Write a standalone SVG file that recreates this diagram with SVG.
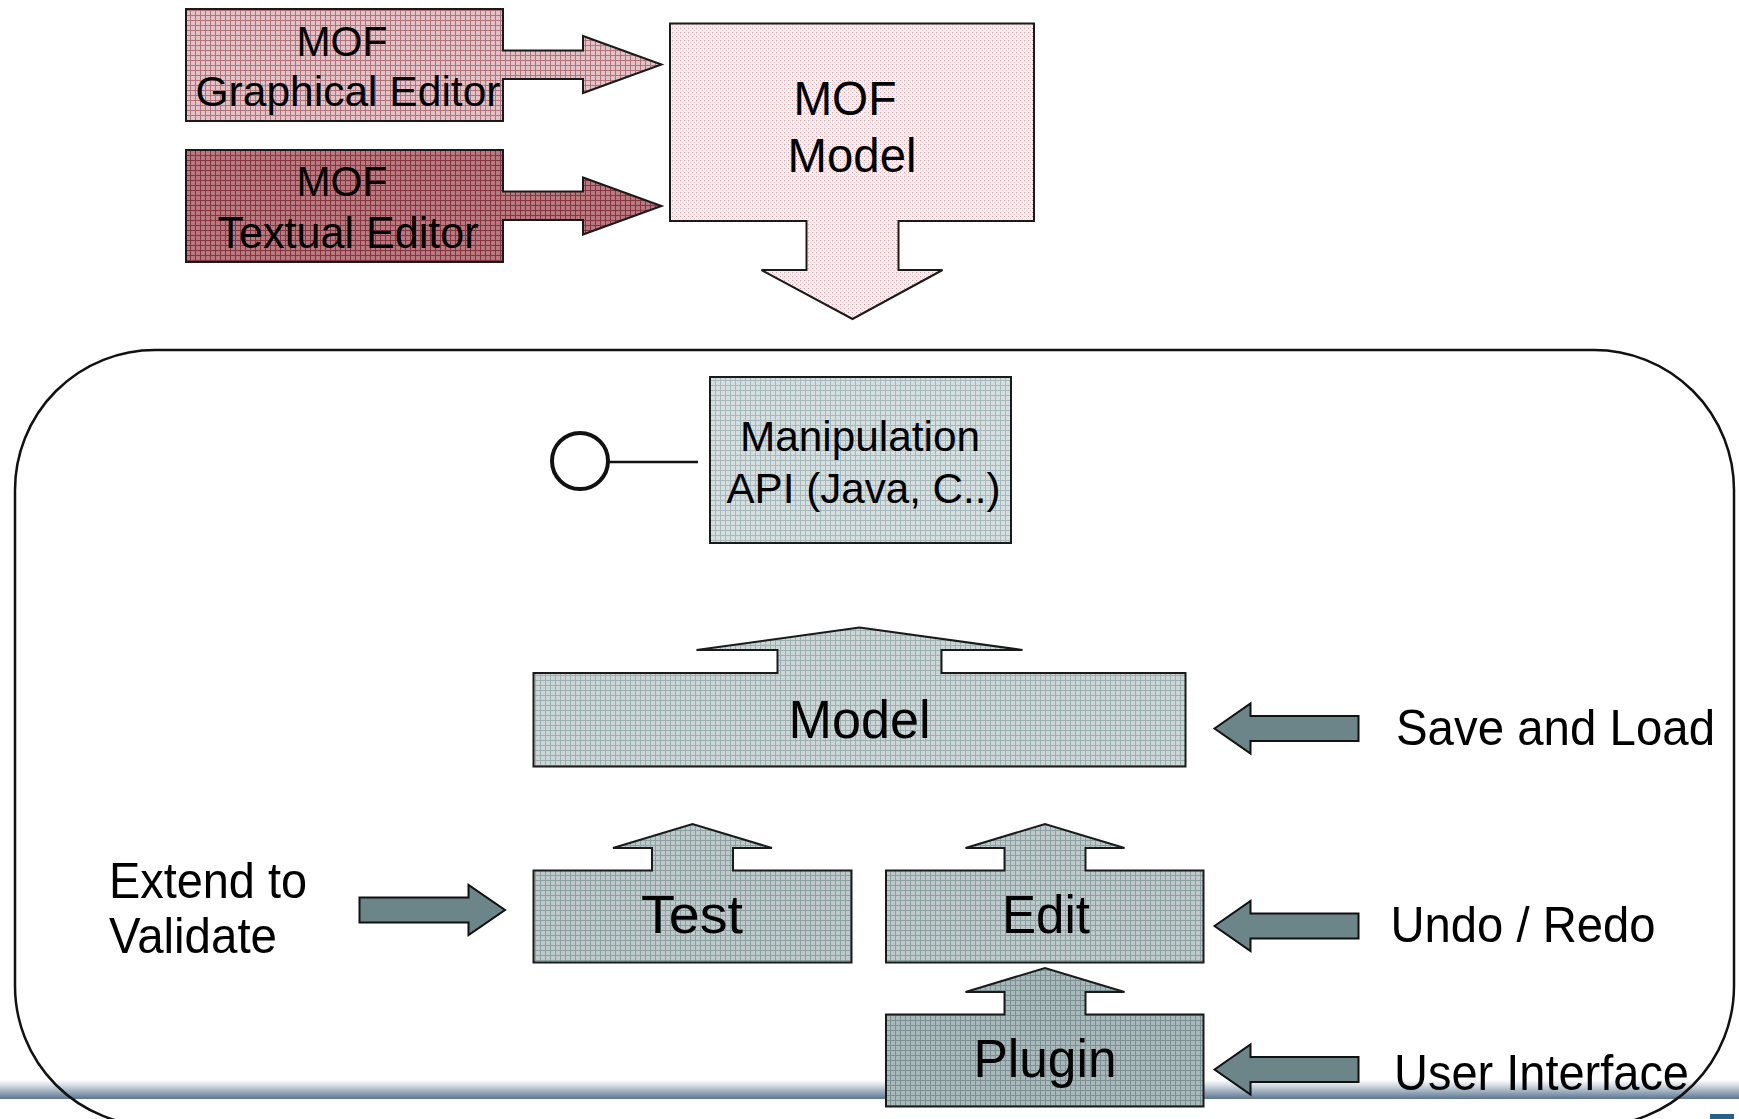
<svg xmlns="http://www.w3.org/2000/svg" width="1739" height="1119" viewBox="0 0 1739 1119">
<style>
.shape{stroke:#1a1a1a;stroke-width:2;stroke-linejoin:miter}
.blk{fill:#6b8588;stroke:#111;stroke-width:2}
.t{font-family:"Liberation Sans",Arial,Helvetica,sans-serif;fill:#000}
.c{text-anchor:middle}
</style>
<defs>
<pattern id="pGraph" width="5" height="5" patternUnits="userSpaceOnUse">
<rect width="5" height="5" fill="#e2c2c6"/>
<path d="M0,0.5H5M0.5,0V5" stroke="#b0737a" stroke-width="1"/>
</pattern>
<pattern id="pText" width="5" height="5" patternUnits="userSpaceOnUse">
<rect width="5" height="5" fill="#b87a80"/>
<path d="M0,0.5H5M0.5,0V5" stroke="#84343c" stroke-width="1"/>
</pattern>
<pattern id="pMof" width="4" height="4" patternUnits="userSpaceOnUse">
<rect width="4" height="4" fill="#f7eef0"/>
<rect x="0" y="0" width="1" height="1" fill="#c99aa0"/>
<rect x="2" y="2" width="1" height="1" fill="#dcbcc0"/>
</pattern>
<pattern id="pApi" width="5" height="5" patternUnits="userSpaceOnUse">
<rect width="5" height="5" fill="#d6dfe0"/>
<path d="M0,0.5H5M0.5,0V5" stroke="#a7b8ba" stroke-width="1"/>
</pattern>
<pattern id="pModel" width="5" height="5" patternUnits="userSpaceOnUse">
<rect width="5" height="5" fill="#ccd6d7"/>
<path d="M0,0.5H5M0.5,0V5" stroke="#9cafb1" stroke-width="1"/>
</pattern>
<pattern id="pTest" width="5" height="5" patternUnits="userSpaceOnUse">
<rect width="5" height="5" fill="#bdc9ca"/>
<path d="M0,0.5H5M0.5,0V5" stroke="#8ca0a2" stroke-width="1"/>
</pattern>
<pattern id="pPlug" width="5" height="5" patternUnits="userSpaceOnUse">
<rect width="5" height="5" fill="#a9b8ba"/>
<path d="M0,0.5H5M0.5,0V5" stroke="#7a9093" stroke-width="1"/>
</pattern>
<linearGradient id="band" x1="0" y1="0" x2="0" y2="1">
<stop offset="0" stop-color="#ffffff"/>
<stop offset="0.25" stop-color="#d9e0e7"/>
<stop offset="1" stop-color="#5b7691"/>
</linearGradient>
</defs>

<rect width="1739" height="1119" fill="#ffffff"/>
<g id="footer">
<rect x="0" y="1080" width="1739" height="19" fill="url(#band)"/>
<rect x="1710" y="1114" width="24" height="5" fill="#24618f"/>
</g>

<g id="platform">
<rect x="15" y="350" width="1719" height="776" rx="140" ry="140" fill="none" stroke="#111" stroke-width="2.5"/>
</g>

<g id="mof-graphical-editor">
<path class="shape" fill="url(#pGraph)" d="M186,9 H503 V50.5 H583 V36 L661.5,64.5 L583,93 V79 H503 V121 H186 Z"/>
<text class="t c" x="342" y="56" font-size="43" textLength="91" lengthAdjust="spacingAndGlyphs">MOF</text>
<text class="t c" x="348" y="106" font-size="43" textLength="305" lengthAdjust="spacingAndGlyphs">Graphical Editor</text>
</g>

<g id="mof-textual-editor">
<path class="shape" fill="url(#pText)" d="M186,150 H503 V191.5 H583 V177.5 L661.5,206 L583,234.5 V220 H503 V262 H186 Z"/>
<text class="t c" x="342" y="196" font-size="43" textLength="91" lengthAdjust="spacingAndGlyphs">MOF</text>
<text class="t c" x="348" y="248" font-size="44" textLength="261" lengthAdjust="spacingAndGlyphs">Textual Editor</text>
</g>

<g id="mof-model">
<path class="shape" fill="url(#pMof)" d="M670,23.5 H1034 V221 H898.5 V270 H942.5 L852.5,319 L761.5,270 H806.5 V221 H670 Z"/>
<text class="t c" x="845" y="115" font-size="48" textLength="103" lengthAdjust="spacingAndGlyphs">MOF</text>
<text class="t c" x="852" y="172" font-size="48" textLength="129" lengthAdjust="spacingAndGlyphs">Model</text>
</g>

<g id="manipulation-api">
<rect class="shape" x="710" y="377" width="301" height="166" fill="url(#pApi)"/>
<text class="t c" x="860" y="451" font-size="43" textLength="240" lengthAdjust="spacingAndGlyphs">Manipulation</text>
<text class="t c" x="863.5" y="503" font-size="43" textLength="274" lengthAdjust="spacingAndGlyphs">API (Java, C..)</text>
</g>

<g id="api-interface">
<circle cx="580" cy="461" r="28" fill="#ffffff" stroke="#111" stroke-width="4"/>
</g>

<g id="model">
<path class="shape" fill="url(#pModel)" d="M533.5,673 H777.5 V650 H696.5 L859.5,627.5 L1022.5,650 H941.5 V673 H1185.5 V766.5 H533.5 Z"/>
<text class="t c" x="859.5" y="738" font-size="54" textLength="142" lengthAdjust="spacingAndGlyphs">Model</text>
</g>

<g id="test">
<path class="shape" fill="url(#pTest)" d="M533.5,870.5 H652 V848 H613 L692.5,824 L772,848 H733 V870.5 H851.5 V962.5 H533.5 Z"/>
<text class="t c" x="692" y="933" font-size="54" textLength="102" lengthAdjust="spacingAndGlyphs">Test</text>
</g>

<g id="edit">
<path class="shape" fill="url(#pTest)" d="M886,870.5 H1004.5 V848 H965.5 L1045,824 L1124.5,848 H1085.5 V870.5 H1203.5 V962.5 H886 Z"/>
<text class="t c" x="1046" y="933" font-size="54" textLength="88" lengthAdjust="spacingAndGlyphs">Edit</text>
</g>

<g id="plugin">
<path class="shape" fill="url(#pPlug)" d="M886,1014.5 H1004.5 V992 H965.5 L1045,968 L1124.5,992 H1085.5 V1014.5 H1203.5 V1106.5 H886 Z"/>
<text class="t c" x="1045" y="1077" font-size="54" textLength="143" lengthAdjust="spacingAndGlyphs">Plugin</text>
</g>

<g id="connectors">
<line x1="609" y1="462" x2="698" y2="462" stroke="#111" stroke-width="2.5"/>
<path class="blk" d="M1214.5,728.5 L1250.5,703.5 V716 H1358.5 V741 H1250.5 V753.5 Z"/>
<path class="blk" d="M1214.5,926 L1250.5,901 V913.5 H1358.5 V938.5 H1250.5 V951 Z"/>
<path class="blk" d="M1214.5,1069.5 L1250.5,1044.5 V1057 H1358.5 V1082 H1250.5 V1094.5 Z"/>
<path class="blk" d="M359.5,897.5 H468.5 V885 L505,910 L468.5,935 V922.5 H359.5 Z"/>
</g>

<g id="label-save-load">
<text class="t" x="1396" y="745" font-size="50" textLength="319" lengthAdjust="spacingAndGlyphs">Save and Load</text>
</g>
<g id="label-undo-redo">
<text class="t" x="1390.5" y="942" font-size="50" textLength="265" lengthAdjust="spacingAndGlyphs">Undo / Redo</text>
</g>
<g id="label-user-interface">
<text class="t" x="1394" y="1090" font-size="50" textLength="295" lengthAdjust="spacingAndGlyphs">User Interface</text>
</g>
<g id="label-extend">
<text class="t" x="109" y="898" font-size="50" textLength="198" lengthAdjust="spacingAndGlyphs">Extend to</text>
<text class="t" x="109" y="953" font-size="50" textLength="168" lengthAdjust="spacingAndGlyphs">Validate</text>
</g>
</svg>
